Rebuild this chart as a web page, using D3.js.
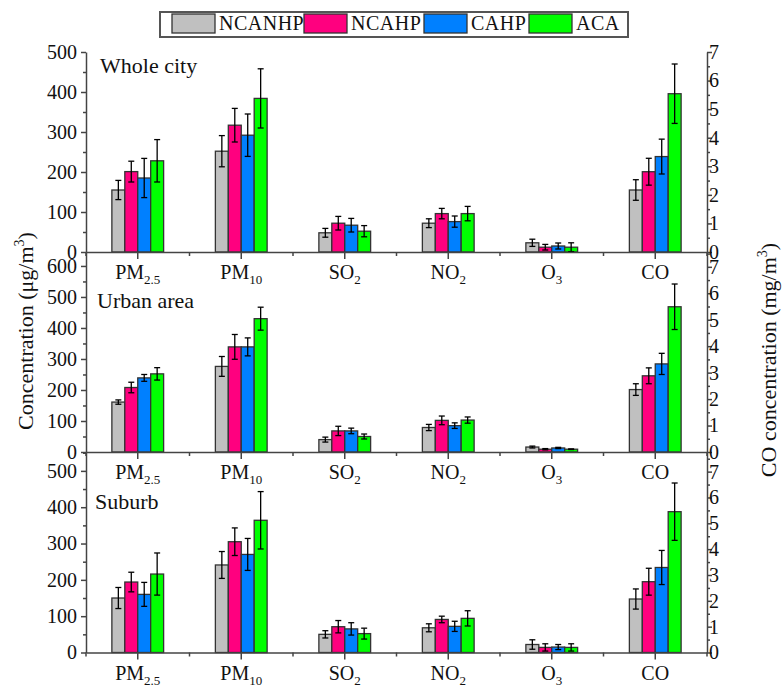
<!DOCTYPE html>
<html>
<head>
<meta charset="utf-8">
<script src="https://cdn.jsdelivr.net/npm/d3@7"></script>
<style>
  body { margin: 0; background: #fff; }
  svg text { font-family: "Liberation Serif", "Times New Roman", Tinos, serif !important; }
</style>
</head>
<body>
<div id="app"></div>
<script>
// categories and series
const categories = ["PM2.5", "PM10", "SO2", "NO2", "O3", "CO"];
const catMain = ["PM", "PM", "SO", "NO", "O", "CO"];
const catSub = ["2.5", "10", "2", "2", "3", ""];
const series = ["NCANHP", "NCAHP", "CAHP", "ACA"];
const colors = ["#c0c0c0", "#ff007f", "#0080ff", "#00ff00"];
const panelNames = ["Whole city", "Urban area", "Suburb"];

// tick labels
const leftTicks = [[0, 100, 200, 300, 400, 500], [0, 100, 200, 300, 400, 500, 600], [0, 100, 200, 300, 400, 500]];
const rightTicks = [0, 1, 2, 3, 4, 5, 6, 7];
const leftMax = [500, 645, 552];
const rightMax = [7, 7.56, 7.76];

// mean values, one row per series (NCANHP, NCAHP, CAHP, ACA); CO in mg/m3
const wholeMean = [
  [155, 252, 48, 72, 23, 2.17],
  [201, 317, 72, 96, 12, 2.81],
  [185, 292, 67, 76, 15, 3.34],
  [228, 384, 52, 96, 12, 5.54]
];
const wholeErr = [
  [24, 39, 11, 11, 9, 0.36],
  [26, 42, 17, 13, 7, 0.47],
  [49, 53, 17, 14, 7.5, 0.61],
  [53, 74, 14, 18, 11, 1.04]
];
const urbanMean = [
  [161, 276, 40, 79, 16, 2.36],
  [208, 339, 68, 102, 9, 2.88],
  [239, 339, 68, 85, 13, 3.33],
  [252, 430, 50, 103, 9, 5.49]
];
const urbanErr = [
  [7, 32, 8, 10, 3, 0.22],
  [17, 40, 15, 14, 2, 0.3],
  [11, 29, 9, 9, 2, 0.4],
  [20, 37, 8, 10, 1, 0.86]
];
const suburbMean = [
  [150, 241, 50, 68, 22, 2.07],
  [194, 305, 71, 91, 14, 2.74],
  [160, 270, 65, 72, 15, 3.29],
  [216, 364, 52, 94, 14, 5.45]
];
const suburbErr = [
  [29, 37, 10, 11, 13, 0.39],
  [27, 38, 17, 9, 10, 0.52],
  [33, 44, 17, 14, 7, 0.66],
  [58, 79, 15, 21, 10, 1.11]
];

const panelMeans = [wholeMean, urbanMean, suburbMean];
const panelErrs = [wholeErr, urbanErr, suburbErr];

const width = 784, height = 691;
const left = 86, right = 707;
const panelTop = [52, 252, 452];
const panelBottom = [252, 452, 652.5];
const titleDy = [21, 56, 57];
const titleX = [100, 97, 95];
const axisColor = "#444";
const textColor = "#111";

const svg = d3.select("#app").append("svg")
  .attr("width", width).attr("height", height);

const x = d3.scaleBand().domain(categories).range([left, right]);
const xInner = d3.scaleBand().domain(series).range([0, x.bandwidth() / 2]);

panelNames.forEach((name, p) => {
  const top = panelTop[p], bottom = panelBottom[p];
  const yL = d3.scaleLinear().domain([0, leftMax[p]]).range([bottom, top]);
  const yR = d3.scaleLinear().domain([0, rightMax[p]]).range([bottom, top]);
  const g = svg.append("g");

  const rows = [];
  series.forEach((s, j) => {
    categories.forEach((c, i) => {
      rows.push({ c, s, j, v: panelMeans[p][j][i], e: panelErrs[p][j][i], y: c === "CO" ? yR : yL });
    });
  });
  const bx = d => x(d.c) + x.bandwidth() / 4 + xInner(d.s);

  // bars
  g.selectAll(".bar").data(rows).join("rect")
    .attr("class", "bar")
    .attr("x", bx)
    .attr("width", xInner.bandwidth())
    .attr("y", d => d.y(d.v))
    .attr("height", d => d.y(0) - d.y(d.v))
    .attr("fill", d => colors[d.j])
    .attr("stroke", "#333")
    .attr("stroke-width", 1.3);

  // error bars
  const eb = g.selectAll(".err").data(rows).join("g").attr("class", "err")
    .attr("stroke", "#000").attr("stroke-width", 1.3);
  const cx = d => bx(d) + xInner.bandwidth() / 2;
  const lo = d => d.y(Math.max(d.v - d.e, 0));
  const hi = d => d.y(d.v + d.e);
  eb.append("line").attr("x1", cx).attr("x2", cx).attr("y1", hi).attr("y2", lo);
  eb.append("line").attr("x1", d => cx(d) - 3).attr("x2", d => cx(d) + 3).attr("y1", hi).attr("y2", hi);
  eb.append("line").attr("x1", d => cx(d) - 3).attr("x2", d => cx(d) + 3).attr("y1", lo).attr("y2", lo);

  // left axis
  const la = svg.append("g").attr("transform", `translate(${left},0)`)
    .call(d3.axisLeft(yL).tickValues(leftTicks[p]).tickFormat(d3.format("d"))
      .tickSize(5).tickSizeOuter(0).tickPadding(4));
  const lm = svg.append("g").attr("transform", `translate(${left},0)`)
    .call(d3.axisLeft(yL).tickValues(d3.range(50, leftMax[p], 100)).tickSize(3).tickFormat(""))
    .call(a => a.select(".domain").remove());

  // right axis
  const ra = svg.append("g").attr("transform", `translate(${right},0)`)
    .call(d3.axisRight(yR).tickValues(rightTicks).tickFormat(d3.format("d"))
      .tickSize(5).tickSizeOuter(0).tickPadding(-3));
  const rm = svg.append("g").attr("transform", `translate(${right},0)`)
    .call(d3.axisRight(yR).tickValues(d3.range(0.5, rightMax[p], 1)).tickSize(3).tickFormat(""))
    .call(a => a.select(".domain").remove());

  // bottom axis
  const ba = svg.append("g").attr("transform", `translate(0,${bottom})`)
    .call(d3.axisBottom(x).tickSize(7).tickSizeOuter(0).tickFormat(""));
  const bounds = categories.map(c => x(c)).concat([x.range()[1]]);
  svg.append("g").selectAll("line").data(bounds).join("line")
    .attr("x1", d => d).attr("x2", d => d)
    .attr("y1", bottom).attr("y2", bottom + 4)
    .attr("stroke", axisColor).attr("stroke-width", 1.5);

  [la, lm, ra, rm, ba].forEach(a => {
    a.selectAll(".domain, line").attr("stroke", axisColor).attr("stroke-width", 1.5);
    a.selectAll("text").attr("font-size", 20).attr("fill", textColor);
  });

  // category labels
  const lab = svg.append("g").selectAll("text").data(categories).join("text")
    .attr("x", c => x(c) + x.bandwidth() / 2)
    .attr("y", bottom + 27)
    .attr("text-anchor", "middle")
    .attr("font-size", 20)
    .attr("fill", textColor);
  lab.append("tspan").text((c, i) => catMain[i]);
  lab.append("tspan").attr("font-size", 13).attr("dy", 5).text((c, i) => catSub[i]);

  // panel title
  svg.append("text")
    .attr("x", titleX[p])
    .attr("y", top + titleDy[p])
    .attr("font-size", 22)
    .attr("fill", textColor)
    .text(name);
});

// axis titles
const yt = svg.append("text")
  .attr("transform", "translate(33,331) rotate(-90)")
  .attr("text-anchor", "middle")
  .attr("font-size", 22).attr("fill", textColor);
yt.append("tspan").text("Concentration (μg/m");
yt.append("tspan").attr("font-size", 14).attr("dy", -9).text("3");
yt.append("tspan").attr("dy", 9).text(")");

const rt = svg.append("text")
  .attr("transform", "translate(776,360) rotate(-90)")
  .attr("text-anchor", "middle")
  .attr("font-size", 22).attr("fill", textColor);
rt.append("tspan").text("CO concentration (mg/m");
rt.append("tspan").attr("font-size", 14).attr("dy", -9).text("3");
rt.append("tspan").attr("dy", 9).text(")");

// legend
const legend = svg.append("g");
legend.append("rect")
  .attr("x", 160).attr("y", 12).attr("width", 468).attr("height", 25)
  .attr("fill", "#fff").attr("stroke", "#555").attr("stroke-width", 2);
const legX = d3.scaleOrdinal().domain(series).range([172, 304, 424, 529]);
const li = legend.selectAll(".li").data(series).join("g").attr("class", "li")
  .attr("transform", s => `translate(${legX(s)},14)`);
li.append("rect").attr("width", 43).attr("height", 19)
  .attr("fill", (s, i) => colors[i]).attr("stroke", "#333").attr("stroke-width", 1.3);
li.append("text").attr("x", 47).attr("y", 16)
  .attr("font-size", 20).attr("fill", textColor)
  .attr("letter-spacing", 0.5)
  .text(s => s);
</script>
</body>
</html>
